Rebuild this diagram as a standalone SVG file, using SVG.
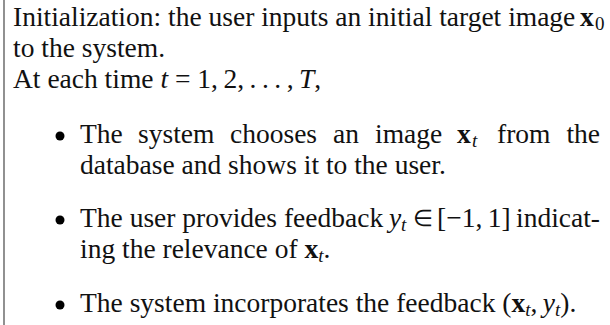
<svg xmlns="http://www.w3.org/2000/svg" width="610" height="325" viewBox="0 0 610 325">
<style>
text{font-family:"Liberation Serif","Times New Roman",serif;font-size:27.5px;fill:#111}
.m{font-style:italic}
.b{font-weight:bold}
.s{font-size:19px}
.si{font-size:19px;font-style:italic}
.in{font-size:23px}
</style>
<rect width="610" height="325" fill="#fff"/>
<line x1="4" y1="0" x2="4" y2="325" stroke="#555" stroke-width="1.3"/>
<g id="intro">
<text x="13" y="26">Initialization: the user inputs an initial target image</text>
<text x="580" y="26" class="b">x</text><text x="595" y="30" class="s">0</text>
<text x="13" y="57">to the system.</text>
<text x="13" y="88">At each time <tspan class="m">t</tspan> = 1,&#8201;2,&#8201;.&#8201;.&#8201;.&#8201;,&#8201;<tspan class="m">T</tspan>,</text>
</g>
<g id="bullet1">
<circle cx="60" cy="136" r="4.5"/>
<text x="80" y="143">The</text>
<text x="138" y="143">system</text>
<text x="230" y="143">chooses</text>
<text x="333" y="143">an</text>
<text x="375" y="143">image</text>
<text x="457" y="143" class="b">x</text><text x="472" y="147" class="si">t</text>
<text x="497" y="143">from</text>
<text x="600" y="143" text-anchor="end">the</text>
<text x="80" y="174">database and shows it to the user.</text>
</g>
<g id="bullet2">
<circle cx="60" cy="220" r="4.5"/>
<text x="80" y="227">The user provides feedback</text>
<text x="389" y="227" class="m">y</text><text x="401" y="231" class="si">t</text>
<text x="413" y="226" class="in">∈</text>
<text x="437" y="227">[−1,&#8201;1]</text>
<text x="600" y="227" text-anchor="end">indicat-</text>
<text x="80" y="258">ing the relevance of <tspan class="b">x</tspan><tspan class="si" dy="4">t</tspan><tspan dy="-4">.</tspan></text>
</g>
<g id="bullet3">
<circle cx="60" cy="305" r="4.5"/>
<text x="80" y="312">The system incorporates the feedback (<tspan class="b">x</tspan><tspan class="si" dy="4">t</tspan><tspan dy="-4">,&#8201;</tspan><tspan class="m">y</tspan><tspan class="si" dy="4">t</tspan><tspan dy="-4">).</tspan></text>
</g>
</svg>
